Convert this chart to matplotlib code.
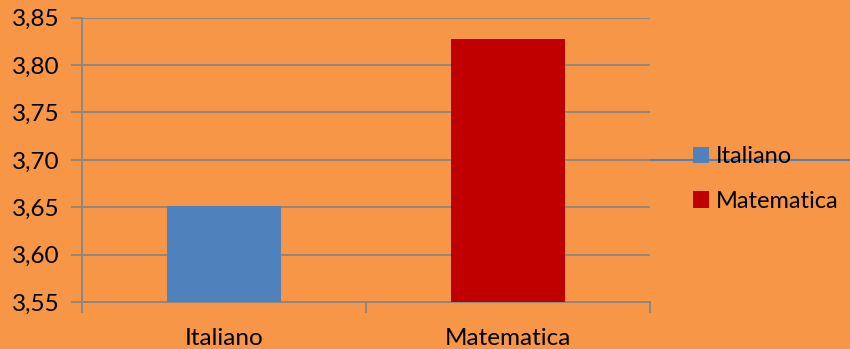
import matplotlib
matplotlib.use('Agg')
import matplotlib.pyplot as plt
from matplotlib.ticker import FuncFormatter, FixedLocator
import numpy as np

categories = ['Italiano', 'Matematica']
values = [3.651, 3.827]
colors = ['#4F81BD', '#C00000']

bg = '#F79646'
grid = '#868686'

plt.rcParams['font.family'] = ['Lato', 'DejaVu Sans']

fig = plt.figure(figsize=(8.5, 3.49), dpi=100, facecolor=bg)
ax = fig.add_axes([82/850, 47/349, 568/850, 284.3/349])
ax.set_facecolor(bg)

x = np.arange(len(categories))
bars = ax.bar(x, values, width=0.4, color=colors, zorder=3, label=categories)

ax.set_xlim(-0.5, len(categories) - 0.5)
ax.set_ylim(3.55, 3.85)
ax.set_yticks(np.arange(3.55, 3.851, 0.05))
ax.yaxis.set_major_formatter(FuncFormatter(lambda v, p: f'{v:.2f}'.replace('.', ',')))
ax.yaxis.grid(True, color=grid, linewidth=1.3, zorder=0)

ax.set_xticks(x)
ax.set_xticklabels(categories)
ax.xaxis.set_minor_locator(FixedLocator([-0.5, 0.5, 1.5]))
ax.tick_params(axis='x', which='major', length=0, pad=19, labelsize=17.5)
ax.tick_params(axis='x', which='minor', length=8, width=1.3, color=grid)
ax.tick_params(axis='y', length=8, width=1.3, color=grid, labelsize=17.5, pad=8)

for s in ['top', 'right']:
    ax.spines[s].set_visible(False)
for s in ['left', 'bottom']:
    ax.spines[s].set_color(grid)
    ax.spines[s].set_linewidth(1.3)

# stray blue line through legend area
ax.axhline(3.70, xmin=1.0, xmax=850/568 - 82/568 + 0.01, color='#4F81BD',
           linewidth=1.5, clip_on=False, zorder=1)

leg = ax.legend(handles=bars, labels=categories, loc='center left',
                bbox_to_anchor=(1.076, 0.433), frameon=False, fontsize=17,
                handlelength=0.68, handleheight=0.68, handletextpad=0.3,
                labelspacing=1.0, borderpad=0, borderaxespad=0)

fig.savefig('out.png', dpi=100, facecolor=bg)
